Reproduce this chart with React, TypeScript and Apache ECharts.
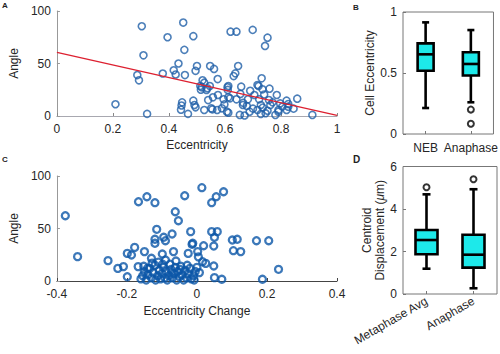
import React, { useEffect, useRef } from "react";
import * as echarts from "echarts";

// Panel A: eccentricity vs angle
const scatterA: [number, number][] = [
  [0.209, 11.2], [0.303, 85.5], [0.309, 57.8], [0.287, 39], [0.293, 34], [0.322, 2],
  [0.395, 75], [0.378, 40.5], [0.417, 43.5], [0.434, 50], [0.424, 39.5], [0.451, 89],
  [0.455, 63], [0.445, 10], [0.443, 6], [0.447, 13], [0.487, 76], [0.5, 47.6],
  [0.547, 47.6], [0.495, 43], [0.457, 39], [0.52, 34], [0.517, 27.3], [0.534, 24.8],
  [0.546, 28.6], [0.54, 15.2], [0.487, 14.6], [0.491, 10.5], [0.495, 8.3], [0.468, 2],
  [0.526, 5.7], [0.551, 7.3], [0.62, 80.3], [0.641, 80.3], [0.699, 82], [0.752, 74.6],
  [0.743, 66.7], [0.561, 44.8], [0.647, 47.6], [0.637, 40.6], [0.631, 38], [0.574, 35.2],
  [0.526, 31.7], [0.512, 28.6], [0.537, 26.4], [0.514, 25], [0.609, 27.3], [0.658, 27.9],
  [0.731, 35.9], [0.72, 28.6], [0.734, 25.4], [0.759, 26], [0.785, 20], [0.858, 16.5],
  [0.82, 14.6], [0.595, 15.9], [0.618, 16.8], [0.912, 1], [0.612, 28.6], [0.61, 24.8],
  [0.716, 29.5], [0.826, 11.4], [0.557, 17.8], [0.612, 17.8], [0.641, 15.9], [0.664, 10.5],
  [0.682, 15.9], [0.722, 15.9], [0.728, 10.5], [0.757, 15.2], [0.762, 10.5], [0.797, 12],
  [0.791, 5.7], [0.589, 7.3], [0.572, 5.7], [0.555, 6.3], [0.612, 3.1], [0.653, 1],
  [0.67, 0.5], [0.688, 4.1], [0.716, 5.7], [0.728, 1.9], [0.745, 2.6], [0.78, 1],
  [0.791, 4.1], [0.82, 5.7], [0.826, 8.9], [0.607, 4.1], [0.678, 9.5], [0.665, 12.5],
  [0.7, 7], [0.735, 8], [0.752, 5], [0.77, 13], [0.805, 9], [0.845, 7],
  [0.598, 11], [0.705, 20], [0.74, 20.5], [0.69, 24], [0.655, 21], [0.575, 20],
];
const fitLineA: [number, number][] = [[0, 60.5], [1, 0.5]];

// Panel C: eccentricity change vs angle
const scatterC: [number, number][] = [
  [-0.376, 62.2], [-0.341, 23.2], [-0.254, 19.4], [-0.226, 12], [-0.21, 13.7], [-0.199, 4.1],
  [-0.199, 26.3], [-0.187, 24.8], [-0.178, 32], [-0.168, 13.7], [-0.167, 75.5], [-0.143, 80.3],
  [-0.12, 74.6], [-0.15, 28], [-0.141, 12.1], [-0.13, 21.6], [-0.115, 49.2], [-0.12, 39.7],
  [-0.12, 35.9], [-0.095, 41.6], [-0.09, 38.4], [-0.099, 25.7], [-0.071, 44.8], [-0.067, 28],
  [-0.062, 66], [-0.053, 57.4], [-0.035, 81.2], [0.014, 88.9], [0.055, 80.3], [0.076, 85],
  [0.042, 74.6], [-0.018, 47], [0.042, 47], [0.058, 47], [0.05, 41.6], [-0.014, 35],
  [0.019, 33.6], [0.048, 33.3], [0.002, 28], [0.004, 23], [-0.025, 26.3], [0.101, 39],
  [0.115, 39.7], [0.104, 28.9], [0.125, 28], [0.17, 38.4], [0.205, 38.4], [0.233, 11.1],
  [0.187, 1.6], [0.05, 3.2], [0.071, 1.6], [0.048, 14.3], [0.025, 16.8], [0.007, 8],
  [0.016, 18.4], [-0.012, 35.9],
  [-0.16, 2], [-0.155, 5], [-0.15, 9], [-0.145, 1], [-0.14, 6], [-0.135, 12],
  [-0.13, 3], [-0.125, 8], [-0.12, 15], [-0.118, 1], [-0.112, 5], [-0.108, 10],
  [-0.104, 2], [-0.1, 7], [-0.096, 13], [-0.092, 3], [-0.088, 9], [-0.085, 1],
  [-0.08, 5], [-0.077, 16], [-0.074, 11], [-0.07, 3], [-0.066, 7], [-0.062, 13],
  [-0.058, 1], [-0.055, 9], [-0.05, 4], [-0.046, 14], [-0.042, 6], [-0.038, 1],
  [-0.034, 10], [-0.03, 3], [-0.025, 7], [-0.02, 12], [-0.016, 2], [-0.01, 5],
  [-0.005, 9], [-0.11, 18], [-0.09, 20], [-0.06, 19], [-0.152, 14], [-0.128, 17],
  [-0.098, 16], [-0.072, 8], [-0.048, 11], [-0.028, 15], [-0.008, 1], [0.0, 13],
];

// Panel B: cell eccentricity box plots [min, Q1, median, Q3, max]
const categoriesB = ["NEB", "Anaphase"];
const statsB: number[][] = [
  [0.213, 0.519, 0.653, 0.743, 0.915],
  [0.26, 0.48, 0.574, 0.67, 0.852],
];
const outliersB: [number, number][] = [[1, 0.2], [1, 0.084]];

// Panel D: centroid displacement box plots
const categoriesD = ["Metaphase Avg", "Anaphase"];
const statsD: number[][] = [
  [1.19, 1.87, 2.54, 3.01, 4.69],
  [0.27, 1.24, 1.85, 2.79, 4.93],
];
const outliersD: [number, number][] = [[0, 5.02], [1, 5.4]];

const FONT = "Liberation Sans, Arial, Helvetica, sans-serif";
const TXT = "#262626";

function boxRender(boxW: number, capW: number) {
  return (params: any, api: any) => {
    const i = api.value(0);
    const lo = api.coord([i, api.value(1)]);
    const q1 = api.coord([i, api.value(2)]);
    const md = api.coord([i, api.value(3)]);
    const q3 = api.coord([i, api.value(4)]);
    const hi = api.coord([i, api.value(5)]);
    const x = lo[0];
    const ls = { stroke: "#000", lineWidth: 2.6 };
    return {
      type: "group",
      children: [
        { type: "line", shape: { x1: x, y1: hi[1], x2: x, y2: q3[1] }, style: ls },
        { type: "line", shape: { x1: x, y1: q1[1], x2: x, y2: lo[1] }, style: ls },
        { type: "line", shape: { x1: x - capW / 2, y1: hi[1], x2: x + capW / 2, y2: hi[1] }, style: ls },
        { type: "line", shape: { x1: x - capW / 2, y1: lo[1], x2: x + capW / 2, y2: lo[1] }, style: ls },
        {
          type: "rect",
          shape: { x: x - boxW / 2, y: q3[1], width: boxW, height: q1[1] - q3[1] },
          style: { fill: "#1de9ea", stroke: "#000", lineWidth: 2.6 },
        },
        { type: "line", shape: { x1: x - boxW / 2, y1: md[1], x2: x + boxW / 2, y2: md[1] }, style: ls },
      ],
    };
  };
}

const tickLabel = { fontFamily: FONT, fontSize: 12, color: TXT };
const nameStyle = { fontFamily: FONT, fontSize: 12, color: TXT };

export default function App() {
  const ref = useRef<HTMLDivElement>(null);
  useEffect(() => {
    if (!ref.current) return;
    const chart = echarts.init(ref.current, undefined, { renderer: "svg" });
    const option: any = {
      animation: false,
      backgroundColor: "#fff",
      grid: [
        { left: 48, width: 289, top: 11, height: 105 },
        { left: 48, width: 289, top: 176, height: 105 },
        { left: 403, width: 94, top: 12, height: 122, show: true, borderColor: "#777", borderWidth: 1 },
        { left: 403, width: 94, top: 166.5, height: 127.5, show: true, borderColor: "#777", borderWidth: 1 },
      ],
      xAxis: [
        {
          gridIndex: 0, type: "value", min: 0, max: 1, interval: 0.2,
          name: "Eccentricity", nameLocation: "middle", nameGap: 23, nameTextStyle: nameStyle,
          axisLine: { show: true, lineStyle: { color: "#a8a8b0", width: 1 } },
          axisTick: { show: true, inside: true, length: 3, lineStyle: { color: "#888" } },
          axisLabel: { ...tickLabel, margin: 7 },
          splitLine: { show: false },
        },
        {
          gridIndex: 1, type: "value", min: -0.4, max: 0.4, interval: 0.2,
          name: "Eccentricity Change", nameLocation: "middle", nameGap: 24, nameTextStyle: nameStyle,
          axisLine: { show: true, onZero: false, lineStyle: { color: "#444", width: 1 } },
          axisTick: { show: true, inside: true, length: 3, lineStyle: { color: "#444" } },
          axisLabel: { ...tickLabel, margin: 7 },
          splitLine: { show: false },
        },
        {
          gridIndex: 2, type: "category", data: categoriesB,
          axisLine: { show: false },
          axisTick: { show: true, inside: true, alignWithLabel: true, length: 3, lineStyle: { color: "#777" } },
          axisLabel: { ...tickLabel, margin: 8, interval: 0, hideOverlap: false },
        },
        {
          gridIndex: 3, type: "category", data: categoriesD,
          axisLine: { show: false },
          axisTick: { show: true, inside: true, alignWithLabel: true, length: 3, lineStyle: { color: "#777" } },
          axisLabel: { ...tickLabel, rotate: 30, margin: 6, interval: 0, hideOverlap: false },
        },
      ],
      yAxis: [
        {
          gridIndex: 0, type: "value", min: 0, max: 100, interval: 50,
          name: "Angle", nameLocation: "middle", nameGap: 31, nameTextStyle: nameStyle,
          axisLine: { show: true, lineStyle: { color: "#999", width: 1 } },
          axisTick: { show: true, inside: true, length: 3, lineStyle: { color: "#999" } },
          axisLabel: { ...tickLabel, margin: 6 },
          splitLine: { show: false },
        },
        {
          gridIndex: 1, type: "value", min: 0, max: 100, interval: 50,
          name: "Angle", nameLocation: "middle", nameGap: 31, nameTextStyle: nameStyle,
          axisLine: { show: true, onZero: false, lineStyle: { color: "#999", width: 1 } },
          axisTick: { show: true, inside: true, length: 3, lineStyle: { color: "#999" } },
          axisLabel: { ...tickLabel, margin: 6 },
          splitLine: { show: false },
        },
        {
          gridIndex: 2, type: "value", min: 0, max: 1, interval: 0.5,
          name: "Cell Eccentricity", nameLocation: "middle", nameGap: 25, nameTextStyle: nameStyle,
          axisLine: { show: false },
          axisTick: { show: true, inside: true, length: 3, lineStyle: { color: "#777" } },
          axisLabel: { ...tickLabel, margin: 6 },
          splitLine: { show: false },
        },
        {
          gridIndex: 3, type: "value", min: 0, max: 6, interval: 2,
          name: "{n|Centroid}\n{n|Displacement (}{i|μ}{n|m)}", nameLocation: "middle", nameGap: 15,
          nameTextStyle: {
            ...nameStyle, lineHeight: 13,
            rich: {
              n: { fontFamily: FONT, fontSize: 12, color: TXT, lineHeight: 13 },
              i: { fontFamily: FONT, fontSize: 12, color: TXT, fontStyle: "italic", lineHeight: 13 },
            },
          },
          axisLine: { show: false },
          axisTick: { show: true, inside: true, length: 3, lineStyle: { color: "#777" } },
          axisLabel: { ...tickLabel, margin: 6 },
          splitLine: { show: false },
        },
      ],
      series: [
        {
          type: "scatter", xAxisIndex: 0, yAxisIndex: 0, data: scatterA,
          symbol: "circle", symbolSize: 7,
          itemStyle: { color: "rgba(0,0,0,0)", borderColor: "#1f5fa8", borderWidth: 1.6 },
        },
        {
          type: "line", xAxisIndex: 0, yAxisIndex: 0, data: fitLineA,
          symbol: "none", lineStyle: { color: "#dd2030", width: 1.3 },
        },
        {
          type: "scatter", xAxisIndex: 1, yAxisIndex: 1, data: scatterC,
          symbol: "circle", symbolSize: 7,
          itemStyle: { color: "rgba(0,0,0,0)", borderColor: "#0b56a8", borderWidth: 2.3 },
        },
        {
          type: "custom", xAxisIndex: 2, yAxisIndex: 2,
          data: statsB.map((s, i) => [i, ...s]),
          encode: { x: 0, y: [1, 2, 3, 4, 5] },
          renderItem: boxRender(16, 7),
        },
        {
          type: "scatter", xAxisIndex: 2, yAxisIndex: 2, data: outliersB,
          symbol: "circle", symbolSize: 6,
          itemStyle: { color: "rgba(0,0,0,0)", borderColor: "#000", borderWidth: 2 },
        },
        {
          type: "custom", xAxisIndex: 3, yAxisIndex: 3,
          data: statsD.map((s, i) => [i, ...s]),
          encode: { x: 0, y: [1, 2, 3, 4, 5] },
          renderItem: boxRender(22, 8),
        },
        {
          type: "scatter", xAxisIndex: 3, yAxisIndex: 3, data: outliersD,
          symbol: "circle", symbolSize: 6,
          itemStyle: { color: "rgba(0,0,0,0)", borderColor: "#000", borderWidth: 2 },
        },
      ],
      graphic: [
        { type: "text", left: 2, top: 1, style: { text: "A", fontFamily: FONT, fontSize: 8, fontWeight: "bold", fill: "#222" } },
        { type: "text", left: 353, top: 3, style: { text: "B", fontFamily: FONT, fontSize: 8, fontWeight: "bold", fill: "#222" } },
        { type: "text", left: 2, top: 155, style: { text: "C", fontFamily: FONT, fontSize: 8, fontWeight: "bold", fill: "#222" } },
        { type: "text", left: 353, top: 154, style: { text: "D", fontFamily: FONT, fontSize: 10, fontWeight: "bold", fill: "#222" } },
      ],
    };
    chart.setOption(option);
    return () => chart.dispose();
  }, []);
  return (
    <div
      ref={ref}
      style={{ position: "fixed", left: 0, top: 0, width: 500, height: 354, background: "#fff" }}
    />
  );
}
